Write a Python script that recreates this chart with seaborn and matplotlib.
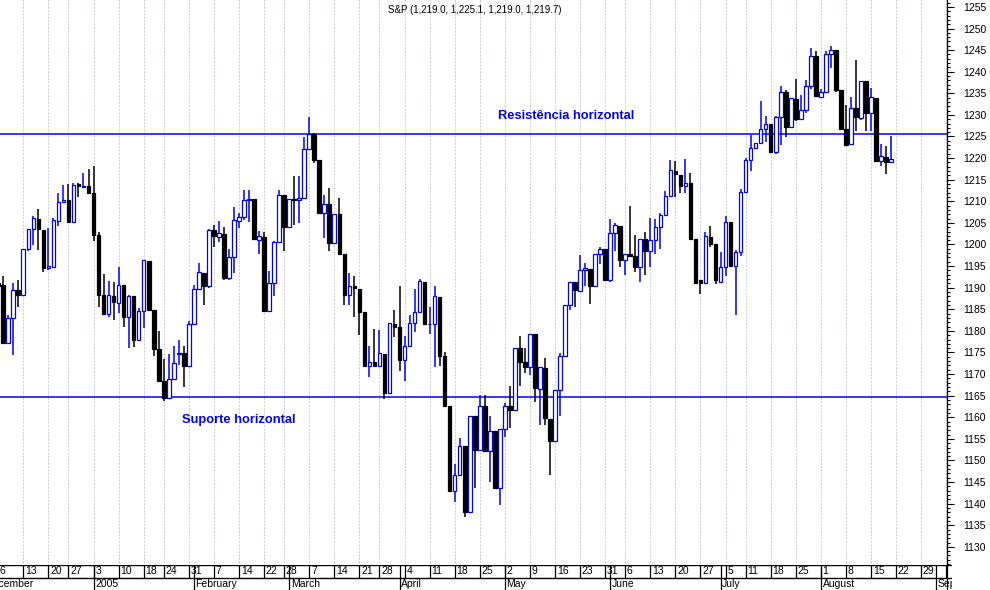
import numpy as np
import pandas as pd
import seaborn as sns
import matplotlib.pyplot as plt
from matplotlib.ticker import MultipleLocator

# S&P 500 daily candles, 6 Dec 2004 .. 19 Aug 2005
opens = [1191.2, 1190.6, 1177.3, 1183.0, 1189.5, 1188.3, 1198.9, 1203.5, 1205.8, 1203.4,
         1194.5, 1194.9, 1205.5, 1209.8, 1210.3, 1205.1, 1213.9, 1213.4, 1213.6, 1212.0,
         1202.2, 1188.3, 1183.9, 1188.1, 1186.4, 1190.6, 1183.3, 1188.0, 1177.8, 1184.7,
         1196.2, 1184.9, 1175.9, 1168.3, 1164.4, 1168.8, 1174.6, 1174.8, 1171.8, 1181.6,
         1189.6, 1193.4, 1190.3, 1203.4, 1201.8, 1202.5, 1192.2, 1197.2, 1205.5, 1206.3,
         1210.2, 1210.5, 1201.1, 1201.7, 1184.5, 1191.0, 1200.5, 1211.5, 1204.0, 1210.5,
         1210.2, 1210.7, 1222.1, 1225.5, 1219.6, 1207.2, 1209.3, 1200.3, 1207.0, 1197.9,
         1188.3, 1190.4, 1189.7, 1184.3, 1171.9, 1172.8, 1171.8, 1174.7, 1165.7, 1181.6,
         1181.0, 1173.3, 1176.5, 1181.8, 1184.3, 1191.4, 1181.5, 1181.5, 1187.8, 1174.2,
         1162.5, 1143.0, 1146.7, 1153.4, 1138.0, 1160.3, 1152.5, 1162.6, 1152.1, 1156.9,
         1143.7, 1157.2, 1162.6, 1161.6, 1176.1, 1172.9, 1171.6, 1179.3, 1166.6, 1171.4,
         1159.6, 1154.4, 1166.3, 1174.1, 1186.0, 1191.4, 1189.3, 1194.1, 1194.3, 1190.3,
         1197.7, 1199.0, 1191.7, 1202.6, 1204.3, 1196.3, 1197.8, 1197.4, 1194.9, 1201.3,
         1198.4, 1201.1, 1204.0, 1206.9, 1211.3, 1217.0, 1216.1, 1213.6, 1214.2, 1201.2,
         1191.8, 1191.0, 1201.7, 1200.1, 1191.4, 1194.7, 1205.3, 1195.0, 1198.2, 1212.1,
         1219.6, 1222.3, 1223.5, 1226.7, 1227.8, 1221.3, 1229.5, 1235.3, 1227.3, 1233.7,
         1229.0, 1231.2, 1236.8, 1243.7, 1234.2, 1235.3, 1244.1, 1245.1, 1235.8, 1226.7,
         1223.2, 1231.6, 1229.3, 1237.9, 1230.4, 1233.9, 1219.4, 1220.2, 1219.0]
highs = [1192.4, 1192.6, 1183.6, 1191.0, 1191.8, 1198.9, 1203.5, 1206.6, 1208.2, 1203.4,
         1203.8, 1206.1, 1211.9, 1213.8, 1214.1, 1214.2, 1214.2, 1216.5, 1217.5, 1218.2,
         1203.0, 1193.2, 1191.6, 1191.4, 1194.8, 1190.6, 1188.2, 1188.0, 1185.2, 1196.5,
         1196.2, 1184.9, 1179.9, 1173.4, 1174.7, 1176.4, 1177.9, 1176.5, 1182.2, 1190.6,
         1195.7, 1193.4, 1203.5, 1204.5, 1205.5, 1204.0, 1198.9, 1208.6, 1207.2, 1212.6,
         1212.6, 1210.5, 1203.2, 1202.8, 1193.9, 1200.7, 1212.5, 1211.5, 1210.5, 1215.9,
         1215.9, 1224.8, 1229.5, 1225.8, 1219.6, 1211.5, 1213.0, 1207.0, 1210.7, 1197.9,
         1193.5, 1192.6, 1189.7, 1184.3, 1176.5, 1180.5, 1180.2, 1174.7, 1181.8, 1184.9,
         1190.3, 1178.7, 1183.7, 1189.7, 1192.0, 1191.4, 1185.6, 1190.4, 1187.8, 1175.2,
         1162.5, 1149.2, 1155.2, 1153.4, 1160.3, 1160.3, 1165.2, 1165.2, 1160.2, 1156.9,
         1157.2, 1163.4, 1167.3, 1176.1, 1178.8, 1176.1, 1179.2, 1179.3, 1171.6, 1173.7,
         1159.6, 1166.3, 1174.8, 1186.0, 1191.4, 1191.4, 1197.6, 1195.6, 1194.3, 1197.7,
         1199.5, 1199.0, 1205.9, 1204.9, 1204.3, 1197.8, 1209.0, 1202.2, 1201.3, 1202.8,
         1206.1, 1205.9, 1207.4, 1212.3, 1219.6, 1219.4, 1216.1, 1219.8, 1216.5, 1201.2,
         1191.8, 1202.8, 1204.3, 1200.1, 1198.3, 1206.5, 1205.3, 1198.7, 1212.9, 1220.0,
         1225.4, 1223.5, 1233.3, 1229.8, 1227.8, 1229.8, 1236.7, 1235.8, 1233.9, 1238.3,
         1234.6, 1238.1, 1245.4, 1244.9, 1236.0, 1244.7, 1246.0, 1245.1, 1235.8, 1232.3,
         1234.1, 1242.7, 1237.9, 1237.9, 1236.2, 1233.9, 1223.3, 1222.8, 1225.1]
lows = [1185.2, 1177.3, 1177.3, 1174.4, 1185.6, 1188.3, 1198.4, 1199.9, 1198.8, 1193.7,
        1194.1, 1194.9, 1204.2, 1209.8, 1204.9, 1205.1, 1211.1, 1213.4, 1211.6, 1200.7,
        1185.6, 1183.9, 1183.3, 1182.6, 1184.1, 1181.0, 1176.1, 1176.2, 1177.8, 1180.6,
        1184.9, 1174.1, 1168.3, 1163.8, 1164.4, 1168.8, 1172.1, 1167.0, 1171.8, 1181.6,
        1189.6, 1185.9, 1189.9, 1199.5, 1200.5, 1191.8, 1191.8, 1193.5, 1203.8, 1205.7,
        1205.3, 1201.2, 1197.8, 1184.5, 1184.5, 1188.1, 1200.5, 1198.4, 1204.0, 1204.5,
        1204.9, 1210.7, 1222.1, 1218.8, 1207.0, 1201.6, 1198.4, 1200.3, 1197.8, 1186.0,
        1186.0, 1183.3, 1179.1, 1171.9, 1169.3, 1171.9, 1171.8, 1164.2, 1165.7, 1178.5,
        1170.6, 1168.3, 1176.5, 1179.8, 1184.3, 1181.5, 1179.3, 1171.6, 1171.9, 1162.5,
        1142.6, 1140.5, 1146.7, 1136.9, 1138.0, 1143.6, 1152.5, 1152.1, 1145.1, 1143.7,
        1139.7, 1155.5, 1157.5, 1161.6, 1167.3, 1170.2, 1169.8, 1163.6, 1158.2, 1158.2,
        1146.7, 1154.4, 1160.3, 1174.1, 1184.9, 1185.6, 1189.1, 1190.3, 1186.2, 1190.3,
        1195.5, 1191.7, 1191.4, 1198.4, 1194.9, 1193.0, 1197.4, 1193.7, 1191.4, 1193.0,
        1194.9, 1197.8, 1198.9, 1206.9, 1211.3, 1211.1, 1211.9, 1211.9, 1201.2, 1191.0,
        1188.6, 1191.0, 1199.5, 1190.9, 1191.4, 1192.6, 1195.0, 1183.7, 1197.4, 1212.1,
        1216.9, 1222.3, 1223.5, 1223.8, 1221.3, 1221.0, 1223.1, 1224.8, 1226.9, 1228.5,
        1228.9, 1230.4, 1236.0, 1234.3, 1234.0, 1235.3, 1240.8, 1235.3, 1226.7, 1223.1,
        1223.2, 1226.2, 1228.9, 1226.2, 1226.2, 1219.0, 1218.2, 1216.3, 1219.0]
closes = [1190.3, 1177.3, 1183.0, 1189.5, 1188.3, 1198.9, 1203.5, 1206.1, 1203.5, 1194.5,
          1195.0, 1205.7, 1209.8, 1210.3, 1205.3, 1213.8, 1213.6, 1213.6, 1212.0, 1202.2,
          1188.3, 1183.9, 1188.3, 1186.6, 1190.6, 1183.3, 1188.0, 1177.8, 1184.7, 1196.3,
          1184.9, 1175.9, 1168.3, 1164.4, 1168.8, 1172.5, 1174.8, 1171.8, 1181.6, 1189.6,
          1193.6, 1190.3, 1203.4, 1202.0, 1202.6, 1192.2, 1197.2, 1205.7, 1206.3, 1210.3,
          1210.5, 1201.2, 1201.9, 1184.5, 1191.0, 1200.5, 1211.5, 1204.0, 1210.5, 1210.3,
          1210.7, 1222.1, 1225.5, 1219.6, 1207.2, 1209.3, 1200.3, 1207.0, 1197.8, 1188.3,
          1190.4, 1189.9, 1184.3, 1171.9, 1172.8, 1171.9, 1174.9, 1165.7, 1181.8, 1181.0,
          1173.3, 1176.5, 1181.8, 1184.3, 1191.6, 1181.5, 1181.7, 1188.0, 1174.1, 1162.5,
          1143.0, 1146.7, 1153.4, 1138.0, 1160.3, 1152.5, 1162.6, 1152.1, 1156.9, 1143.7,
          1157.2, 1162.6, 1161.6, 1176.1, 1172.9, 1171.6, 1179.2, 1166.7, 1171.6, 1159.8,
          1154.4, 1166.3, 1174.2, 1186.0, 1191.4, 1189.5, 1194.1, 1194.5, 1190.3, 1197.7,
          1199.0, 1191.7, 1202.6, 1204.5, 1196.3, 1197.8, 1197.4, 1194.9, 1201.3, 1198.4,
          1201.1, 1204.0, 1206.9, 1211.3, 1217.3, 1216.3, 1213.6, 1214.2, 1201.2, 1191.0,
          1191.0, 1202.0, 1200.1, 1191.7, 1194.7, 1205.3, 1195.0, 1198.2, 1212.1, 1219.6,
          1222.3, 1223.5, 1226.7, 1227.8, 1221.3, 1229.5, 1235.3, 1227.3, 1233.9, 1229.0,
          1231.2, 1236.8, 1243.7, 1234.3, 1235.3, 1244.1, 1245.1, 1235.8, 1226.7, 1223.1,
          1231.6, 1229.4, 1237.9, 1230.4, 1234.1, 1219.4, 1220.4, 1219.2, 1219.7]

resistance = 1225.5
support = 1164.6
month_labels = ["December", "2005", "February", "March", "April", "May",
                "June", "July", "August", "September"]
holidays = ["2004-12-24", "2005-01-17", "2005-02-21", "2005-03-25",
            "2005-05-30", "2005-07-04", "2005-09-05"]

# trading-day axis (holidays are skipped, like the original chart)
days = pd.bdate_range("2004-12-01", "2005-09-09", freq="C", holidays=holidays)
first = list(days).index(pd.Timestamp("2004-12-06"))
pos = np.arange(len(days)) - first

df = pd.DataFrame({"x": pos[first:first + len(opens)], "open": opens,
                   "high": highs, "low": lows, "close": closes})
df["up"] = df["close"] >= df["open"]

cal = pd.DataFrame({"day": days, "x": pos})
week_start = cal.groupby(cal["day"].dt.to_period("W"))["x"].transform("min") == cal["x"]
weeks = cal[week_start & (cal["x"] >= 0)]
month_start = cal.groupby(cal["day"].dt.to_period("M"))["x"].transform("min") == cal["x"]
months = cal[month_start]

sns.set_theme(style="white")
plt.rcParams["font.family"] = ["Liberation Sans", "DejaVu Sans"]

W, H = 990, 590
PX, X0 = 5.016, -1.78          # pixels per trading day, pixel of day 0
BLUE = "#0000ff"

fig = plt.figure(figsize=(W / 100, H / 100), dpi=100)
ax = fig.add_axes([0, 25 / H, 947 / W, 565 / H])
ax.set_xlim((0 - X0) / PX, (947 - X0) / PX)
ax.set_ylim(1125.8, 1256.6)

# weekly dashed grid, dashes in two pale tints like the original
ax.vlines(weeks["x"], 1120, 1260, colors="#d2c2da", linestyles=(0, (2, 5)),
          lw=0.7, zorder=1)
ax.vlines(weeks["x"], 1120, 1260, colors="#b6d2d2", linestyles=(3.5, (2, 5)),
          lw=0.7, zorder=1)
ax.axhline(resistance, color=BLUE, lw=1.1, zorder=2)
ax.axhline(support, color=BLUE, lw=1.1, zorder=2)

colors = np.where(df["up"], BLUE, "black")
ax.vlines(df["x"], df["low"], df["high"], colors=colors, lw=1.1, zorder=3)
body = (df["close"] - df["open"]).abs().clip(lower=0.15)
ax.bar(df["x"], body, bottom=df[["open", "close"]].min(axis=1), width=0.72,
       color=np.where(df["up"], "white", "black"), edgecolor=colors,
       linewidth=0.9, zorder=4)

ax.text((566.5 - X0) / PX, 1229.8, "Resistência horizontal", color=BLUE,
        fontsize=9.3, fontweight="bold", ha="center", va="center")
ax.text((238.5 - X0) / PX, 1159.4, "Suporte horizontal", color=BLUE,
        fontsize=9.3, fontweight="bold", ha="center", va="center")

fig.text(475 / W, 1 - 10 / H,
         f"S&P ({opens[-1]:,.1f}, {highs[-1]:,.1f}, {lows[-1]:,.1f}, {closes[-1]:,.1f})",
         fontsize=7, ha="center", va="center", color="black")

ax.yaxis.tick_right()
ax.set_yticks(range(1130, 1256, 5))
ax.yaxis.set_minor_locator(MultipleLocator(1))
ax.tick_params(axis="y", which="major", direction="out", length=5, width=0.8,
               labelsize=7.5, pad=7, colors="black", right=True)
ax.tick_params(axis="y", which="minor", direction="out", length=2.5, width=0.8,
               right=True, colors="black")
ax.set_xticks([])
for side in ["left", "top", "bottom"]:
    ax.spines[side].set_visible(False)
ax.spines["right"].set_color("black")
ax.spines["right"].set_linewidth(0.9)

# date bar below the chart: weeks on the first row, months on the second
bar = fig.add_axes([0, 0, 952 / W, 25 / H])
bar.set_xlim((0 - X0) / PX, (952 - X0) / PX)
bar.set_ylim(0, 25)
bar.axis("off")
bar.axhline(24.6, color="black", lw=1)
bar.axhline(12.5, color="black", lw=1)
bar.vlines((947 - X0) / PX, 0, 25, colors="black", lw=0.9)
bar.vlines(weeks["x"], 12.5, 25, colors="black", lw=0.9)
bar.vlines(months["x"], 0, 25, colors="black", lw=0.9)
for x, d in zip(weeks["x"], weeks["day"]):
    if x < 186:
        bar.text(x + 0.35, 18.5, str(d.day), fontsize=7.5, ha="left",
                 va="center", color="black", clip_on=True)
for x, name in zip(months["x"], month_labels):
    bar.text(x + 0.35, 6, name, fontsize=7.5, ha="left", va="center",
             color="black", clip_on=True)

fig.savefig("out.png", dpi=100)
